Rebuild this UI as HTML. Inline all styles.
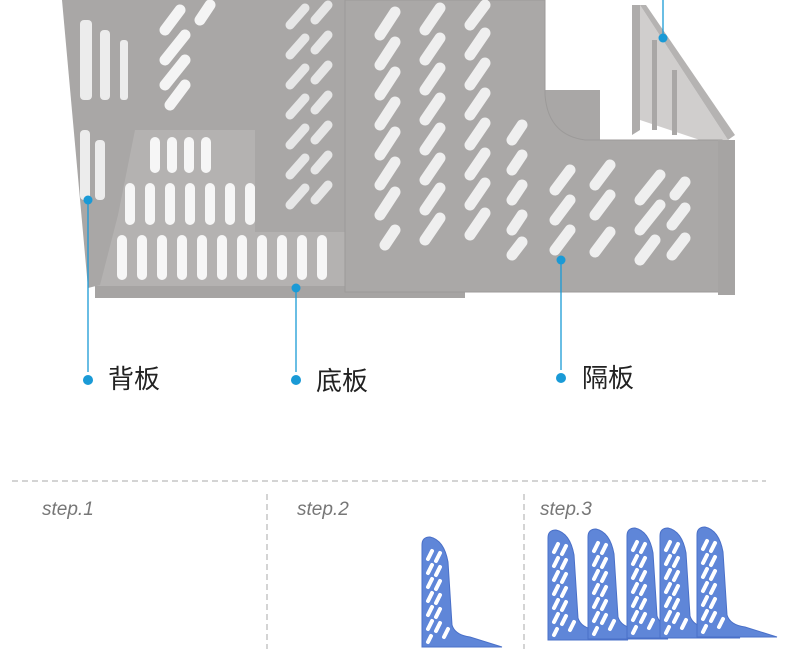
<!DOCTYPE html>
<html><head><meta charset="utf-8"><style>
html,body{margin:0;padding:0;background:#fff;width:790px;height:650px;overflow:hidden;}
svg{display:block}
text{font-family:"Liberation Sans","Noto Sans CJK SC",sans-serif}
</style></head><body>
<svg width="790" height="650" viewBox="0 0 790 650" xmlns="http://www.w3.org/2000/svg">
<defs>
<g id="blue">
<path d="M0,8 Q0,0 8,0 Q22,3 26,25 L30,88 Q33,98 48,100 L80,110 L0,110 Z" fill="#5f86d8" stroke="#4a70c8" stroke-width="1"/>
<g stroke="#fff" stroke-width="4" stroke-linecap="round">
<line x1="6" y1="22" x2="10" y2="14"/><line x1="14" y1="24" x2="18" y2="16"/>
<line x1="6" y1="36" x2="10" y2="28"/><line x1="14" y1="38" x2="18" y2="30"/>
<line x1="6" y1="50" x2="10" y2="42"/><line x1="14" y1="52" x2="18" y2="44"/>
<line x1="6" y1="64" x2="10" y2="56"/><line x1="14" y1="66" x2="18" y2="58"/>
<line x1="6" y1="78" x2="10" y2="70"/><line x1="14" y1="80" x2="18" y2="72"/>
<line x1="6" y1="92" x2="10" y2="84"/><line x1="14" y1="94" x2="18" y2="86"/>
<line x1="22" y1="100" x2="26" y2="92"/><line x1="6" y1="105" x2="9" y2="99"/>
</g>
</g>
</defs>
<rect width="790" height="650" fill="#fff"/>
<rect x="135" y="0" width="130" height="150" fill="#a9a7a6"/>
<g stroke="#f4f4f4" stroke-width="11" stroke-linecap="round">
<line x1="165" y1="30" x2="180" y2="10"/><line x1="165" y1="60" x2="185" y2="35"/><line x1="165" y1="85" x2="185" y2="60"/><line x1="170" y1="105" x2="185" y2="85"/>
<line x1="200" y1="20" x2="210" y2="5"/>
</g>
<polygon points="95,285 118,130 265,130 345,130 345,290 95,290" fill="#b4b2b1"/>
<g stroke="#f6f6f6" stroke-width="10" stroke-linecap="round">
<line x1="155" y1="142" x2="155" y2="168"/><line x1="172" y1="142" x2="172" y2="168"/><line x1="189" y1="142" x2="189" y2="168"/><line x1="206" y1="142" x2="206" y2="168"/>
<line x1="130" y1="188" x2="130" y2="220"/><line x1="150" y1="188" x2="150" y2="220"/><line x1="170" y1="188" x2="170" y2="220"/><line x1="190" y1="188" x2="190" y2="220"/><line x1="210" y1="188" x2="210" y2="220"/><line x1="230" y1="188" x2="230" y2="220"/><line x1="250" y1="188" x2="250" y2="220"/>
<line x1="122" y1="240" x2="122" y2="275"/><line x1="142" y1="240" x2="142" y2="275"/><line x1="162" y1="240" x2="162" y2="275"/><line x1="182" y1="240" x2="182" y2="275"/><line x1="202" y1="240" x2="202" y2="275"/><line x1="222" y1="240" x2="222" y2="275"/><line x1="242" y1="240" x2="242" y2="275"/><line x1="262" y1="240" x2="262" y2="275"/><line x1="282" y1="240" x2="282" y2="275"/><line x1="302" y1="240" x2="302" y2="275"/><line x1="322" y1="240" x2="322" y2="275"/>
</g>
<rect x="95" y="286" width="370" height="12" fill="#a6a4a3"/>
<polygon points="62,0 135,0 135,130 118,215 100,285 88,288" fill="#a9a7a6"/>
<g fill="#ececec"><rect x="80" y="20" width="12" height="80" rx="4"/><rect x="100" y="30" width="10" height="70" rx="4"/><rect x="120" y="40" width="8" height="60" rx="3"/><rect x="80" y="130" width="10" height="70" rx="4"/><rect x="95" y="140" width="10" height="60" rx="4"/></g>
<rect x="255" y="0" width="92" height="232" fill="#a9a7a6"/>
<g stroke="#e6e6e6" stroke-width="9" stroke-linecap="round">
<line x1="290" y1="25" x2="305" y2="8"/><line x1="290" y1="55" x2="305" y2="38"/><line x1="290" y1="85" x2="305" y2="68"/><line x1="290" y1="115" x2="305" y2="98"/><line x1="290" y1="145" x2="305" y2="128"/><line x1="290" y1="175" x2="305" y2="158"/><line x1="290" y1="205" x2="305" y2="188"/>
<line x1="315" y1="20" x2="328" y2="5"/><line x1="315" y1="50" x2="328" y2="35"/><line x1="315" y1="80" x2="328" y2="65"/><line x1="315" y1="110" x2="328" y2="95"/><line x1="315" y1="140" x2="328" y2="125"/><line x1="315" y1="170" x2="328" y2="155"/><line x1="315" y1="200" x2="328" y2="185"/>
</g>
<polygon points="632,5 640,5 640,130 632,135" fill="#aeacab"/>
<polygon points="640,5 728,140 700,140 640,120" fill="#d0cecd"/>
<polygon points="640,5 646,5 735,135 728,140" fill="#b5b3b2"/>
<g fill="#a9a7a6"><rect x="652" y="40" width="5" height="90"/><rect x="672" y="70" width="5" height="65"/></g>
<polygon points="545,90 600,90 600,140 545,140" fill="#a9a7a6"/>
<path d="M345,0 L545,0 L545,95 Q548,135 585,140 L722,140 L722,292 L345,292 Z" fill="#aaa8a7" stroke="#9c9a99"/>
<rect x="718" y="140" width="17" height="155" fill="#a6a4a3"/>
<g stroke="#efefef" stroke-width="11" stroke-linecap="round">
<line x1="380" y1="35" x2="395" y2="12"/><line x1="380" y1="65" x2="395" y2="42"/><line x1="380" y1="95" x2="395" y2="72"/><line x1="380" y1="125" x2="395" y2="102"/><line x1="380" y1="155" x2="395" y2="132"/><line x1="380" y1="185" x2="395" y2="162"/><line x1="380" y1="215" x2="395" y2="192"/><line x1="385" y1="245" x2="395" y2="230"/>
<line x1="425" y1="30" x2="440" y2="8"/><line x1="425" y1="60" x2="440" y2="38"/><line x1="425" y1="90" x2="440" y2="68"/><line x1="425" y1="120" x2="440" y2="98"/><line x1="425" y1="150" x2="440" y2="128"/><line x1="425" y1="180" x2="440" y2="158"/><line x1="425" y1="210" x2="440" y2="188"/><line x1="425" y1="240" x2="440" y2="218"/>
<line x1="470" y1="25" x2="485" y2="5"/><line x1="470" y1="55" x2="485" y2="33"/><line x1="470" y1="85" x2="485" y2="63"/><line x1="470" y1="115" x2="485" y2="93"/><line x1="470" y1="145" x2="485" y2="123"/><line x1="470" y1="175" x2="485" y2="153"/><line x1="470" y1="205" x2="485" y2="183"/><line x1="470" y1="235" x2="485" y2="213"/>
<line x1="512" y1="140" x2="522" y2="125"/><line x1="512" y1="170" x2="522" y2="155"/><line x1="512" y1="200" x2="522" y2="185"/><line x1="512" y1="230" x2="522" y2="215"/><line x1="512" y1="255" x2="522" y2="242"/>
<line x1="555" y1="190" x2="570" y2="170"/><line x1="555" y1="220" x2="570" y2="200"/><line x1="555" y1="250" x2="570" y2="230"/>
<line x1="595" y1="185" x2="610" y2="165"/><line x1="595" y1="215" x2="610" y2="195"/><line x1="595" y1="252" x2="610" y2="232"/>
<line x1="640" y1="200" x2="660" y2="175"/><line x1="640" y1="230" x2="660" y2="205"/><line x1="640" y1="260" x2="655" y2="240"/>
<line x1="675" y1="195" x2="685" y2="182"/><line x1="672" y1="225" x2="685" y2="208"/><line x1="672" y1="255" x2="685" y2="238"/>
</g>
<g stroke="#1a9ad6" stroke-width="1.3"><line x1="88" y1="200" x2="88" y2="372"/><line x1="296" y1="288" x2="296" y2="372"/><line x1="561" y1="260" x2="561" y2="370"/><line x1="663" y1="0" x2="663" y2="38"/></g>
<g fill="#1a9ad6"><circle cx="88" cy="200" r="4.5"/><circle cx="296" cy="288" r="4.5"/><circle cx="561" cy="260" r="4.5"/><circle cx="663" cy="38" r="4.5"/>
<circle cx="88" cy="380" r="5"/><circle cx="296" cy="380" r="5"/><circle cx="561" cy="378" r="5"/></g>
<g font-size="26" fill="#222"><text x="108" y="388">背板</text><text x="316" y="390">底板</text><text x="582" y="387">隔板</text></g>
<line x1="12" y1="481" x2="766" y2="481" stroke="#aaa" stroke-dasharray="6,4"/>
<line x1="267" y1="494" x2="267" y2="649" stroke="#aaa" stroke-dasharray="6,4"/>
<line x1="524" y1="494" x2="524" y2="649" stroke="#aaa" stroke-dasharray="6,4"/>
<g font-size="19" font-style="italic" fill="#777"><text x="42" y="515">step.1</text><text x="297" y="515">step.2</text><text x="540" y="515">step.3</text></g>
<use href="#blue" x="422" y="537"/>
<use href="#blue" x="548" y="530"/>
<use href="#blue" x="588" y="529"/>
<use href="#blue" x="627" y="528"/>
<use href="#blue" x="660" y="528"/>
<use href="#blue" x="697" y="527"/>
</svg>
</body></html>
